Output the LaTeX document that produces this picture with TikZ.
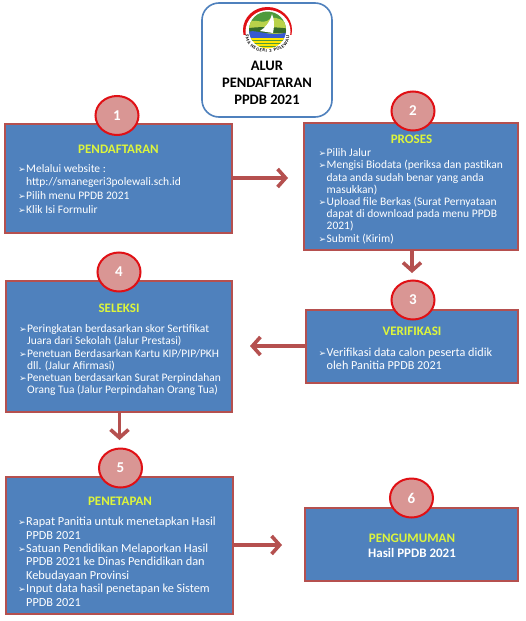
\documentclass[tikz,border=0pt]{standalone}
\usepackage{fontspec}
\setmainfont{Carlito}
\newfontfamily\arrowfont{DejaVu Sans}
\usetikzlibrary{arrows.meta,decorations.text,shapes.geometric}
\definecolor{boxblue}{HTML}{4F81BD}
\definecolor{boxred}{HTML}{B5504F}
\definecolor{numred}{HTML}{D99694}
\definecolor{numline}{HTML}{E01015}
\definecolor{headyellow}{HTML}{DDF53C}
\definecolor{logogreen}{HTML}{4E9A3C}
\definecolor{logolime}{HTML}{B9D24A}
\newcommand{\itm}{\llap{{\arrowfont\fontsize{9}{9}\selectfont ➢}\hspace{.5pt}}}
\tikzset{
  stepbox/.style={draw=boxred,fill=boxblue,line width=2.2pt,inner sep=0pt},
  numcircle/.style={ellipse,draw=numline,fill=numred,line width=2pt,inner sep=0pt,
    text=white,font=\fontsize{15}{15}\selectfont\bfseries},
  headtxt/.style={text=headyellow,inner sep=0pt,font=\fontsize{13}{13}\selectfont\bfseries},
  listtxt/.style 2 args={text=white,inner sep=0pt,anchor=north west,align=left,
    font=\fontsize{#1}{#2}\selectfont},
  titletxt/.style={inner sep=0pt,align=center,font=\fontsize{14.5}{17}\selectfont\bfseries},
  steparrow/.style={draw=boxred,line width=3.2pt,-{Straight Barb[length=8pt,width=18pt,line width=3.6pt]}}
}
\begin{document}
\begin{tikzpicture}[x=1pt,y=-1pt]
 \useasboundingbox (0,0) rectangle (525,621);
 \fill[white] (0,0) rectangle (525,621);
 % title block
 \node[draw=boxblue,line width=1.6pt,rounded corners=17pt,minimum width=130pt,minimum height=114pt,inner sep=0pt] (title) at (267,60) {};
 % logo
 \begin{scope}
  \begin{scope}
   \clip (267.5,30) ellipse (24.5 and 23);
   \fill[numline] (240,5) rectangle (295,35);
  \end{scope}
  \fill[white] (268,31.5) ellipse (22.5 and 21.5);
  \begin{scope}
   \clip (267.5,30) circle (18.5);
   \fill[logogreen] (245,10) rectangle (290,33);
   \fill[logolime] (245,24) .. controls (255,16) and (262,26) .. (270,19) .. controls (278,15) and (283,22) .. (290,25) -- (290,35) -- (245,35) -- cycle;
   \fill[logogreen!70!black] (245,29) .. controls (255,26) and (280,27) .. (290,29) -- (290,33) -- (245,33) -- cycle;
   \fill[boxblue!70!blue] (245,33) .. controls (255,27) and (265,38) .. (290,32) -- (290,40) -- (245,40) -- cycle;
   \fill[yellow!90!orange] (245,38) rectangle (290,52);
   \foreach \YY in {40,43,...,49} {\draw[logogreen,line width=.8pt] (245,\YY) -- (290,\YY);}
   \fill[white] (272,14) .. controls (275,20) and (274,28) .. (273,33) -- (260,31) .. controls (265,28) and (270,22) .. (272,14) -- cycle;
  \end{scope}
  \path[postaction={decorate,decoration={text along path,text align={fit to path},
     text={|\fontsize{4.6}{4.6}\selectfont\bfseries|SMA NEGERI 3 POLEWALI}}}]
     (246,35) .. controls (243,58) and (292,58) .. (289,35);
 \end{scope}
 \node[titletxt] (titletext) at (267,83) {ALUR\\PENDAFTARAN\\PPDB 2021};
 % boxes and number circles
 \foreach \Z/\X/\Y/\W/\H in {1/118.5/178.5/227/109,
    2/411/186.5/214/127,
    3/412/346.5/212/73,
    4/119/346.5/226/131,
    5/119.5/545.5/227/137,
    6/411.5/544.5/213/73}
 {\node[stepbox,minimum width=\W pt,minimum height=\H pt] (box-\Z) at (\X,\Y) {};
 }
 \foreach \Z/\CX/\CY in {1/117/115.5,2/413/111,3/413/300,4/119/272,5/120.5/468,6/411.5/498}
 {\node[numcircle,minimum width=43pt,minimum height=39pt] (num-\Z) at (\CX,\CY) {\Z};}
 % headings
 \node[headtxt] (head-1) at (118.5,149) {PENDAFTARAN};
 \node[headtxt] (head-2) at (411.5,139) {PROSES};
 \node[headtxt] (head-3) at (412,331) {VERIFIKASI};
 \node[headtxt] (head-4) at (119,308.5) {SELEKSI};
 \node[headtxt] (head-5) at (120,501.5) {PENETAPAN};
 \node[headtxt] (head-6) at (412,538) {PENGUMUMAN};
 % lists
 \node[listtxt={11.5}{13.7pt}] (list-1) at (26,164) {\itm Melalui website :\\http://smanegeri3polewali.sch.id\\\itm Pilih menu PPDB 2021\\\itm Klik Isi Formulir};
 \node[listtxt={11.5}{12.2pt}] (list-2) at (326.5,148.5) {\itm Pilih Jalur\\\itm Mengisi Biodata (periksa dan pastikan\\data anda sudah benar yang anda\\masukkan)\\\itm Upload file Berkas (Surat Pernyataan\\dapat di download pada menu PPDB\\2021)\\\itm Submit (Kirim)};
 \node[listtxt={12.2}{13pt}] (list-3) at (326.5,348) {\itm Verifikasi data calon peserta didik\\oleh Panitia PPDB 2021};
 \node[listtxt={11.5}{12.2pt}] (list-4) at (27,324.5) {\itm Peringkatan berdasarkan skor Sertifikat\\Juara dari Sekolah (Jalur Prestasi)\\\itm Penetuan Berdasarkan Kartu KIP/PIP/PKH\\dll. (Jalur Afirmasi)\\\itm Penetuan berdasarkan Surat Perpindahan\\Orang Tua (Jalur Perpindahan Orang Tua)};
 \node[listtxt={12.3}{13.4pt}] (list-5) at (26,517) {\itm Rapat Panitia untuk menetapkan Hasil\\PPDB 2021\\\itm Satuan Pendidikan Melaporkan Hasil\\PPDB 2021 ke Dinas Pendidikan dan\\Kebudayaan Provinsi\\\itm Input data hasil penetapan ke Sistem\\PPDB 2021};
 \node[text=white,inner sep=0pt,font=\fontsize{13}{13}\selectfont\bfseries] (list-6) at (412,552.5) {Hasil PPDB 2021};
 % arrows
 \coordinate (tip-12) at (288,178);
 \coordinate (tip-23) at (412,273);
 \coordinate (tip-34) at (250,346);
 \coordinate (tip-45) at (119.5,440);
 \coordinate (tip-56) at (282,545);
 \draw[steparrow] (box-1.east |- tip-12) -- (tip-12);
 \draw[steparrow] (box-2.south -| tip-23) -- (tip-23);
 \draw[steparrow] (box-3.west |- tip-34) -- (tip-34);
 \draw[steparrow] (box-4.south -| tip-45) -- (tip-45);
 \draw[steparrow] (box-5.east |- tip-56) -- (tip-56);
\end{tikzpicture}
\end{document}
